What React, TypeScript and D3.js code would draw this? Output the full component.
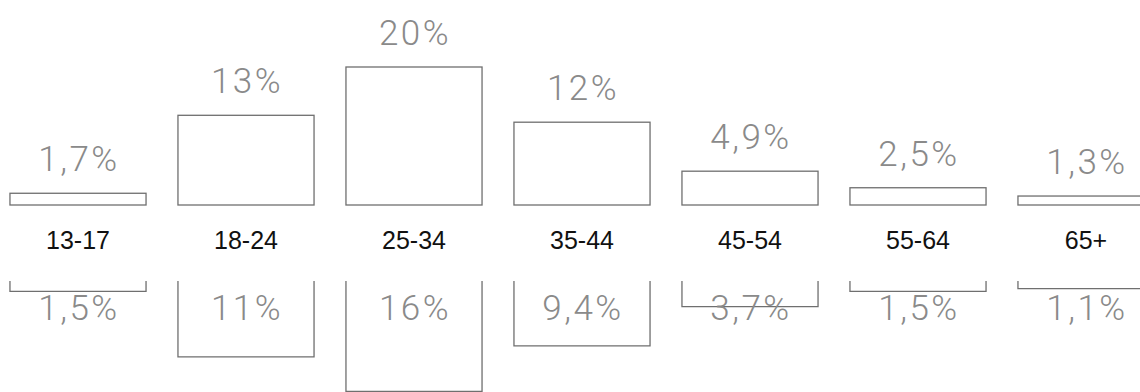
import React from 'react';
import * as d3 from 'd3';

const ageGroups = ['13-17', '18-24', '25-34', '35-44', '45-54', '55-64', '65+'];
const topValues = [1.7, 13, 20, 12, 4.9, 2.5, 1.3];
const bottomValues = [1.5, 11, 16, 9.4, 3.7, 1.5, 1.1];

const width = 1140;
const height = 392;
const topBase = 205;
const bottomBase = 281;

const locale = d3.formatLocale({ decimal: ',', thousands: '.', grouping: [3], currency: ['', ''] });
const fmt = locale.format('.2~r');

const App = () => {
  const x = d3
    .scaleBand()
    .domain(ageGroups)
    .range([-6, 1170])
    .paddingInner(0.19)
    .paddingOuter(0.095);

  const h = d3.scaleLinear().domain([0, 20]).range([0, 138]);

  const valueStyle = {
    fontFamily: 'Roboto, "Liberation Sans", sans-serif',
    fontWeight: 300,
    fontSize: 35,
    fill: '#8a8a8a',
    letterSpacing: 2.5,
  };

  return (
    <svg
      width={width}
      height={height}
      style={{ position: 'absolute', left: 0, top: 0, background: '#fff' }}
    >
      {ageGroups.map((g, i) => {
        const x0 = x(g)!;
        const w = x.bandwidth();
        const cx = x0 + w / 2 + 1;
        const ht = h(topValues[i]);
        const hb = h(bottomValues[i]);
        return (
          <g key={g}>
            {/* upper bar, closed box */}
            <rect
              x={x0}
              y={topBase - ht}
              width={w}
              height={ht}
              fill="none"
              stroke="#6f6f6f"
              strokeWidth={1.3}
            />
            <text x={cx} y={topBase - ht - 22} textAnchor="middle" style={valueStyle}>
              {fmt(topValues[i]) + '%'}
            </text>

            <text
              x={x0 + w / 2}
              y={249}
              textAnchor="middle"
              style={{
                fontFamily: '"Liberation Sans", Arial, sans-serif',
                fontSize: 25,
                fill: '#111',
              }}
            >
              {g}
            </text>

            {/* lower bar, open at the top */}
            <path
              d={`M${x0},${bottomBase}V${bottomBase + hb}H${x0 + w}V${bottomBase}`}
              fill="none"
              stroke="#6f6f6f"
              strokeWidth={1.3}
            />
            <text x={cx} y={320} textAnchor="middle" style={valueStyle}>
              {fmt(bottomValues[i]) + '%'}
            </text>
          </g>
        );
      })}
    </svg>
  );
};

export default App;
